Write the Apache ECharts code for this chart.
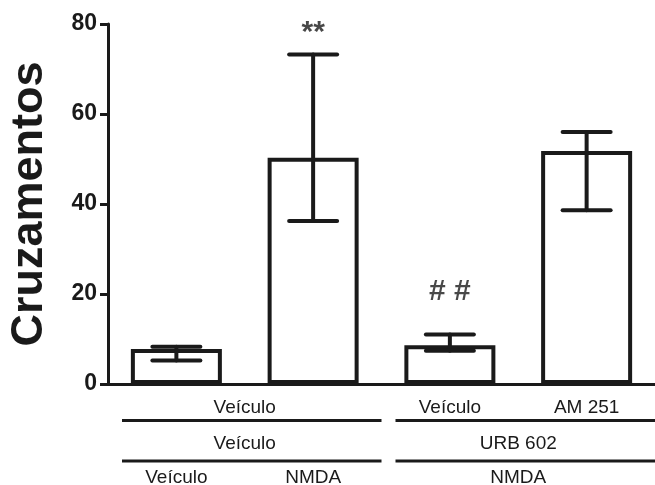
<!DOCTYPE html>
<html>
<head>
<meta charset="utf-8">
<script src="https://cdn.jsdelivr.net/npm/echarts@6/dist/echarts.min.js"></script>
<style>
html,body{margin:0;padding:0;background:#fff;}
#c{width:655px;height:485px;}
</style>
</head>
<body>
<div id="c"></div>
<script>
// ---- data ----
const categories = ['Veículo/Veículo/Veículo', 'NMDA/Veículo/Veículo', 'NMDA/URB 602/Veículo', 'NMDA/URB 602/AM 251'];
const means = [7.8, 50.3, 8.6, 51.8];
const errLow = [5.2, 36.2, 7.4, 38.6];
const errHigh = [8.3, 73.2, 11.0, 56.0];
const annotText = ['', '**', '# #', ''];
const annotValue = [null, 78.0, 20.4, null];
const yTicks = [0, 20, 40, 60, 80];
const yTitle = 'Cruzamentos';
// label rows below the axis: [text, fromCategory, toCategory]
const row1Labels = [['Veículo', 0, 1], ['Veículo', 2, 2], ['AM 251', 3, 3]];
const row2Labels = [['Veículo', 0, 1], ['URB 602', 2, 3]];
const row3Labels = [['Veículo', 0, 0], ['NMDA', 1, 1], ['NMDA', 2, 3]];
const groupLines = [[0, 1], [2, 3]];

const FONT = "'Liberation Sans', Arial, Helvetica, sans-serif";
const annotSize = {'**': 30, '# #': 30};
const chart = echarts.init(document.getElementById('c'), null, {renderer: 'canvas'});

const option = {
  backgroundColor: '#ffffff',
  animation: false,
  grid: {left: 108, right: 0, top: 24, bottom: 101, containLabel: false, outerBoundsMode: 'none'},
  xAxis: {
    type: 'category',
    data: categories,
    axisLine: {lineStyle: {color: '#1a1a1a', width: 3}},
    axisTick: {show: false},
    axisLabel: {show: false}
  },
  yAxis: {
    type: 'value',
    min: yTicks[0],
    max: yTicks[yTicks.length - 1],
    interval: yTicks[1] - yTicks[0],
    name: yTitle,
    nameLocation: 'middle',
    nameGap: 56,
    nameRotate: 90,
    nameTextStyle: {fontFamily: FONT, fontWeight: 'bold', fontSize: 45, color: '#1a1a1a'},
    axisLine: {show: true, lineStyle: {color: '#1a1a1a', width: 3}},
    axisTick: {show: true, inside: false, length: 8, lineStyle: {color: '#1a1a1a', width: 3}},
    axisLabel: {fontFamily: FONT, fontWeight: 'bold', fontSize: 23, color: '#1a1a1a', margin: 11},
    splitLine: {show: false}
  },
  series: [
    {
      type: 'bar',
      data: means,
      barWidth: 91,
      itemStyle: {color: '#ffffff', borderColor: '#1a1a1a', borderWidth: 4},
      z: 2
    },
    {
      type: 'custom',
      z: 5,
      data: means.map((m, i) => [i, errLow[i], errHigh[i]]),
      renderItem: function (params, api) {
        const x = api.value(0);
        const lo = api.coord([x, api.value(1)]);
        const hi = api.coord([x, api.value(2)]);
        const hw = 24;
        const st = {stroke: '#1a1a1a', lineWidth: 4, lineCap: 'round'};
        return {
          type: 'group',
          children: [
            {type: 'line', shape: {x1: lo[0], y1: lo[1], x2: hi[0], y2: hi[1]}, style: st},
            {type: 'line', shape: {x1: hi[0] - hw, y1: hi[1], x2: hi[0] + hw, y2: hi[1]}, style: st},
            {type: 'line', shape: {x1: lo[0] - hw, y1: lo[1], x2: lo[0] + hw, y2: lo[1]}, style: st}
          ]
        };
      }
    },
    {
      type: 'scatter',
      symbolSize: 0,
      z: 6,
      data: annotValue.map((v, i) => ({
        value: [i, v],
        label: {formatter: annotText[i], fontSize: annotSize[annotText[i]] || 24}
      })),
      label: {
        show: true,
        position: 'inside',
        fontFamily: FONT,
        fontWeight: 'bold',
        color: '#1a1a1a'
      }
    }
  ]
};
chart.setOption(option);

// label rows below the axis, positioned from the category scale
function cx(i) { return chart.convertToPixel({xAxisIndex: 0}, i); }
const half = (cx(1) - cx(0)) / 2;
const graphics = [];
function addRow(labels, y) {
  labels.forEach(([t, a, b]) => {
    graphics.push({
      type: 'text', x: (cx(a) + cx(b)) / 2, y: y,
      style: {text: t, font: '19px ' + FONT, fill: '#1a1a1a', textAlign: 'center', textVerticalAlign: 'middle'}
    });
  });
}
function addLines(y) {
  groupLines.forEach(([a, b]) => {
    graphics.push({
      type: 'line',
      shape: {x1: cx(a) - half + 14, y1: y, x2: Math.min(cx(b) + half, 655), y2: y},
      style: {stroke: '#1a1a1a', lineWidth: 3}
    });
  });
}
addRow(row1Labels, 408);
addLines(420.5);
addRow(row2Labels, 444);
addLines(461);
addRow(row3Labels, 478);
chart.setOption({graphic: graphics});
</script>
</body>
</html>
